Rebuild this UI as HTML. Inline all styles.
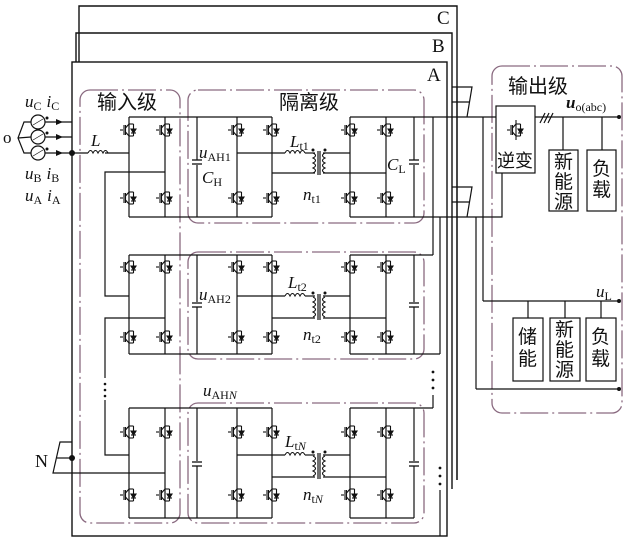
<!DOCTYPE html>
<html><head><meta charset="utf-8"><style>
html,body{margin:0;padding:0;background:#fff}
svg{display:block}
.s{font-family:"Liberation Serif","Noto Serif CJK SC",serif;fill:#111}
.c{font-family:"Liberation Sans","Noto Sans CJK SC",sans-serif;fill:#111}
</style></head><body>
<svg width="640" height="543" viewBox="0 0 640 543" xmlns="http://www.w3.org/2000/svg">
<defs>
<g id="q" stroke="#111" stroke-width="1.1" fill="none">
<line x1="-5" y1="-5" x2="-5" y2="5"/><line x1="-9" y1="0" x2="-6" y2="0"/>
<line x1="-3.5" y1="-5" x2="-3.5" y2="5"/>
<line x1="-3.5" y1="-2" x2="0" y2="-6"/><line x1="-3.5" y1="2" x2="0" y2="6"/>
<polygon points="2,-1 7,-1 4.5,3" fill="#111"/><line x1="2" y1="3" x2="7" y2="3"/>
<line x1="0" y1="-6" x2="4.5" y2="-6"/><line x1="4.5" y1="-6" x2="4.5" y2="6"/><line x1="0" y1="6" x2="4.5" y2="6"/>
</g>
<g id="cap" stroke="#111" stroke-width="1.3"><line x1="-5" y1="-2" x2="5" y2="-2"/><line x1="-5" y1="2" x2="5" y2="2"/></g>
<path id="ind" d="M0,0 q2.5,-5 5,0 q2.5,-5 5,0 q2.5,-5 5,0 q2.5,-5 5,0" fill="none" stroke="#111" stroke-width="1.1"/>
<path id="coil" d="M0,0 q5,2.5 0,5 q5,2.5 0,5 q5,2.5 0,5 q5,2.5 0,5" fill="none" stroke="#111" stroke-width="1.1"/>
<path id="coilL" d="M0,0 q-5,2.5 0,5 q-5,2.5 0,5 q-5,2.5 0,5 q-5,2.5 0,5" fill="none" stroke="#111" stroke-width="1.1"/>
</defs>

<g stroke="#111" stroke-width="1.4" fill="none">
<polyline points="79,480 79,6 457,6 457,480"/>
<polyline points="76,489 76,33 452,33 452,489"/>
<rect x="72" y="62" width="375" height="474" fill="#fff"/>
</g>
<text class="s" x="437" y="24" font-size="19">C</text>
<text class="s" x="432" y="52" font-size="19">B</text>
<text class="s" x="427" y="81" font-size="19">A</text>

<g stroke="#8a6a80" stroke-width="1.3" fill="none" stroke-dasharray="28,4,2,4">
<rect x="80" y="90" width="100" height="433" rx="10"/>
<rect x="188" y="90" width="236" height="133" rx="10"/>
<rect x="188" y="252" width="236" height="107" rx="10"/>
<rect x="188" y="403" width="236" height="120" rx="10"/>
<rect x="492" y="66" width="130" height="347" rx="10"/>
</g>
<text class="c" x="97" y="109" font-size="20">输入级</text>
<text class="c" x="279" y="109" font-size="20">隔离级</text>
<text class="c" x="508" y="93" font-size="20">输出级</text>

<g stroke="#111" stroke-width="1.2" fill="none">
<circle cx="38" cy="122" r="7"/><circle cx="38" cy="137" r="7"/><circle cx="38" cy="153" r="7"/>
<line x1="33" y1="125" x2="43" y2="119" stroke-width="0.7"/><line x1="33" y1="140" x2="43" y2="134" stroke-width="0.7"/><line x1="33" y1="156" x2="43" y2="150" stroke-width="0.7"/>
<polyline points="31,122 24,122 18,138 24,153 31,153"/><line x1="18" y1="138" x2="31" y2="137"/>
<line x1="45" y1="122" x2="72" y2="122"/><line x1="45" y1="137" x2="72" y2="137"/><line x1="45" y1="153" x2="88" y2="153"/>
<polyline points="72,442 60,442 53,473 165,473"/><line x1="57" y1="458" x2="72" y2="458"/>
</g>
<g fill="#111">
<polygon points="56,119 63,122 56,125"/><polygon points="56,134 63,137 56,140"/><polygon points="56,150 63,153 56,156"/>
<circle cx="47" cy="118" r="1.5"/><circle cx="47" cy="133" r="1.5"/><circle cx="47" cy="149" r="1.5"/>
<circle cx="72" cy="153" r="3"/><circle cx="72" cy="458" r="3"/>
</g>
<use href="#ind" x="88" y="153"/>
<text class="s" x="25" y="107" font-size="17"><tspan font-style="italic">u</tspan><tspan font-size="12" dy="3">C</tspan><tspan font-style="italic" dx="5" dy="-3">i</tspan><tspan font-size="12" dy="3">C</tspan></text>
<text class="s" x="3" y="143" font-size="17">o</text>
<text class="s" x="25" y="179" font-size="17"><tspan font-style="italic">u</tspan><tspan font-size="12" dy="3">B</tspan><tspan font-style="italic" dx="5" dy="-3">i</tspan><tspan font-size="12" dy="3">B</tspan></text>
<text class="s" x="25" y="201" font-size="17"><tspan font-style="italic">u</tspan><tspan font-size="12" dy="3">A</tspan><tspan font-style="italic" dx="5" dy="-3">i</tspan><tspan font-size="12" dy="3">A</tspan></text>
<text class="s" x="91" y="146" font-size="17" font-style="italic">L</text>
<text class="s" x="35" y="467" font-size="18">N</text>

<g stroke="#111" stroke-width="1.2" fill="none">
<polyline points="165,172 105,172 105,296 129,296"/>
<polyline points="165,318 105,318 105,378"/>
<polyline points="105,400 105,455 129,455"/>
</g>
<g fill="#111"><circle cx="105" cy="384" r="1.3"/><circle cx="105" cy="390" r="1.3"/><circle cx="105" cy="396" r="1.3"/></g>

<g stroke="#111" stroke-width="1.2" fill="none">
<line x1="129" y1="117" x2="272" y2="117"/><line x1="129" y1="217" x2="272" y2="217"/>
<line x1="129" y1="117" x2="129" y2="217"/><line x1="165" y1="117" x2="165" y2="217"/>
<line x1="197" y1="117" x2="197" y2="217"/><line x1="237" y1="117" x2="237" y2="217"/><line x1="272" y1="117" x2="272" y2="217"/>
<line x1="105" y1="153" x2="129" y2="153"/>
<line x1="237" y1="153" x2="285" y2="153"/><line x1="305" y1="153" x2="315" y2="153"/>
<line x1="272" y1="173" x2="315" y2="173"/>
<line x1="323" y1="153" x2="350" y2="153"/><line x1="323" y1="173" x2="386" y2="173"/>
<line x1="350" y1="117" x2="414" y2="117"/><line x1="350" y1="217" x2="414" y2="217"/>
<line x1="350" y1="117" x2="350" y2="217"/><line x1="386" y1="117" x2="386" y2="217"/><line x1="414" y1="117" x2="414" y2="217"/>
<line x1="318" y1="151" x2="318" y2="175"/><line x1="320" y1="151" x2="320" y2="175"/>
</g>
<g stroke="#fff" stroke-width="3"><line x1="197" y1="160" x2="197" y2="165"/><line x1="414" y1="160" x2="414" y2="165"/><line x1="315" y1="154" x2="315" y2="172"/><line x1="323" y1="154" x2="323" y2="172"/></g>
<use href="#cap" x="197" y="162"/><use href="#cap" x="414" y="162"/>
<use href="#ind" x="285" y="153"/><use href="#coil" x="313" y="153"/><use href="#coilL" x="325" y="153"/>
<g fill="#111"><circle cx="313" cy="150" r="1.5"/><circle cx="325" cy="150" r="1.5"/></g>
<g>
<use href="#q" x="129" y="130"/><use href="#q" x="165" y="130"/><use href="#q" x="129" y="198"/><use href="#q" x="165" y="198"/>
<use href="#q" x="237" y="130"/><use href="#q" x="272" y="130"/><use href="#q" x="237" y="198"/><use href="#q" x="272" y="198"/>
<use href="#q" x="350" y="130"/><use href="#q" x="386" y="130"/><use href="#q" x="350" y="198"/><use href="#q" x="386" y="198"/>
</g>
<text class="s" x="199" y="158" font-size="17"><tspan font-style="italic">u</tspan><tspan font-size="12" dy="3">AH1</tspan></text>
<text class="s" x="202" y="183" font-size="17"><tspan font-style="italic">C</tspan><tspan font-size="12" dy="3">H</tspan></text>
<text class="s" x="290" y="147" font-size="17"><tspan font-style="italic">L</tspan><tspan font-size="12" dy="3">t1</tspan></text>
<text class="s" x="303" y="200" font-size="17"><tspan font-style="italic">n</tspan><tspan font-size="12" dy="3">t1</tspan></text>
<text class="s" x="387" y="170" font-size="17"><tspan font-style="italic">C</tspan><tspan font-size="12" dy="3">L</tspan></text>

<g stroke="#111" stroke-width="1.2" fill="none">
<line x1="129" y1="255" x2="272" y2="255"/><line x1="129" y1="354" x2="272" y2="354"/>
<line x1="129" y1="255" x2="129" y2="354"/><line x1="165" y1="255" x2="165" y2="354"/>
<line x1="197" y1="255" x2="197" y2="354"/><line x1="237" y1="255" x2="237" y2="354"/><line x1="272" y1="255" x2="272" y2="354"/>
<line x1="237" y1="296" x2="285" y2="296"/><line x1="305" y1="296" x2="315" y2="296"/>
<line x1="272" y1="318" x2="315" y2="318"/>
<line x1="323" y1="296" x2="350" y2="296"/><line x1="323" y1="318" x2="386" y2="318"/>
<line x1="350" y1="255" x2="433" y2="255"/><line x1="350" y1="354" x2="440" y2="354"/>
<line x1="350" y1="255" x2="350" y2="354"/><line x1="386" y1="255" x2="386" y2="354"/><line x1="414" y1="255" x2="414" y2="354"/>
<line x1="318" y1="294" x2="318" y2="320"/><line x1="320" y1="294" x2="320" y2="320"/>
</g>
<g stroke="#fff" stroke-width="3"><line x1="197" y1="302" x2="197" y2="307"/><line x1="414" y1="302" x2="414" y2="307"/></g>
<use href="#cap" x="197" y="305"/><use href="#cap" x="414" y="305"/>
<use href="#ind" x="285" y="296"/><use href="#coil" x="313" y="297"/><use href="#coilL" x="325" y="297"/>
<g fill="#111"><circle cx="313" cy="293" r="1.5"/><circle cx="325" cy="293" r="1.5"/></g>
<g>
<use href="#q" x="129" y="267"/><use href="#q" x="165" y="267"/><use href="#q" x="129" y="337"/><use href="#q" x="165" y="337"/>
<use href="#q" x="237" y="267"/><use href="#q" x="272" y="267"/><use href="#q" x="237" y="337"/><use href="#q" x="272" y="337"/>
<use href="#q" x="350" y="267"/><use href="#q" x="386" y="267"/><use href="#q" x="350" y="337"/><use href="#q" x="386" y="337"/>
</g>
<text class="s" x="199" y="300" font-size="17"><tspan font-style="italic">u</tspan><tspan font-size="12" dy="3">AH2</tspan></text>
<text class="s" x="288" y="288" font-size="17"><tspan font-style="italic">L</tspan><tspan font-size="12" dy="3">t2</tspan></text>
<text class="s" x="303" y="340" font-size="17"><tspan font-style="italic">n</tspan><tspan font-size="12" dy="3">t2</tspan></text>

<g stroke="#111" stroke-width="1.2" fill="none">
<line x1="129" y1="408" x2="272" y2="408"/><line x1="129" y1="518" x2="272" y2="518"/>
<line x1="129" y1="408" x2="129" y2="518"/><line x1="165" y1="408" x2="165" y2="518"/>
<line x1="197" y1="408" x2="197" y2="518"/><line x1="237" y1="408" x2="237" y2="518"/><line x1="272" y1="408" x2="272" y2="518"/>
<line x1="237" y1="455" x2="285" y2="455"/><line x1="305" y1="455" x2="315" y2="455"/>
<line x1="272" y1="477" x2="315" y2="477"/>
<line x1="323" y1="455" x2="350" y2="455"/><line x1="323" y1="477" x2="386" y2="477"/>
<line x1="350" y1="408" x2="433" y2="408"/><line x1="350" y1="518" x2="414" y2="518"/>
<line x1="350" y1="408" x2="350" y2="518"/><line x1="386" y1="408" x2="386" y2="518"/><line x1="414" y1="408" x2="414" y2="518"/>
<line x1="318" y1="453" x2="318" y2="479"/><line x1="320" y1="453" x2="320" y2="479"/>
</g>
<g stroke="#fff" stroke-width="3"><line x1="197" y1="461" x2="197" y2="466"/><line x1="414" y1="461" x2="414" y2="466"/></g>
<use href="#cap" x="197" y="464"/><use href="#cap" x="414" y="464"/>
<use href="#ind" x="285" y="455"/><use href="#coil" x="313" y="456"/><use href="#coilL" x="325" y="456"/>
<g fill="#111"><circle cx="313" cy="452" r="1.5"/><circle cx="325" cy="452" r="1.5"/></g>
<g>
<use href="#q" x="129" y="432"/><use href="#q" x="165" y="432"/><use href="#q" x="129" y="495"/><use href="#q" x="165" y="495"/>
<use href="#q" x="237" y="432"/><use href="#q" x="272" y="432"/><use href="#q" x="237" y="495"/><use href="#q" x="272" y="495"/>
<use href="#q" x="350" y="432"/><use href="#q" x="386" y="432"/><use href="#q" x="350" y="495"/><use href="#q" x="386" y="495"/>
</g>
<text class="s" x="203" y="396" font-size="17"><tspan font-style="italic">u</tspan><tspan font-size="12" dy="3">AH</tspan><tspan font-size="12" font-style="italic">N</tspan></text>
<text class="s" x="285" y="447" font-size="17"><tspan font-style="italic">L</tspan><tspan font-size="12" dy="3">t</tspan><tspan font-size="12" font-style="italic">N</tspan></text>
<text class="s" x="303" y="500" font-size="17"><tspan font-style="italic">n</tspan><tspan font-size="12" dy="3">t</tspan><tspan font-size="12" font-style="italic">N</tspan></text>

<g stroke="#111" stroke-width="1.2" fill="none">
<line x1="414" y1="117" x2="496" y2="117"/>
<polyline points="414,217 502,217 502,173"/>
<line x1="433" y1="117" x2="433" y2="255"/>
<line x1="433" y1="395" x2="433" y2="408"/>
<line x1="440" y1="217" x2="440" y2="354"/>
<line x1="440" y1="490" x2="440" y2="536"/>
<line x1="476" y1="217" x2="476" y2="389"/><line x1="476" y1="389" x2="619" y2="389"/>
<line x1="483" y1="117" x2="483" y2="301"/><line x1="483" y1="301" x2="619" y2="301"/>
<polyline points="452,87 472,87 467,117"/><line x1="452" y1="102" x2="470" y2="102"/>
<polyline points="452,187 472,187 467,217"/><line x1="452" y1="202" x2="470" y2="202"/>
<line x1="457" y1="87" x2="457" y2="480"/>
<rect x="496" y="106" width="39" height="67" fill="#fff"/>
<line x1="535" y1="117" x2="619" y2="117"/>
<line x1="540" y1="123" x2="545" y2="113"/><line x1="544" y1="123" x2="549" y2="113"/><line x1="548" y1="123" x2="553" y2="113"/>
<line x1="563" y1="117" x2="563" y2="150"/><line x1="602" y1="117" x2="602" y2="150"/>
<rect x="549" y="150" width="29" height="61"/><rect x="587" y="150" width="29" height="61"/>
<line x1="528" y1="301" x2="528" y2="318"/><line x1="565" y1="301" x2="565" y2="318"/><line x1="601" y1="301" x2="601" y2="318"/>
<rect x="513" y="318" width="30" height="63"/><rect x="550" y="318" width="30" height="63"/><rect x="586" y="318" width="30" height="63"/>
</g>
<g fill="#111">
<circle cx="433" cy="372" r="1.4"/><circle cx="433" cy="380" r="1.4"/><circle cx="433" cy="388" r="1.4"/>
<circle cx="440" cy="468" r="1.4"/><circle cx="440" cy="476" r="1.4"/><circle cx="440" cy="484" r="1.4"/>
<circle cx="619" cy="117" r="2"/><circle cx="619" cy="301" r="2"/><circle cx="619" cy="389" r="2"/>
</g>
<use href="#q" x="516" y="130"/>
<line x1="516" y1="120" x2="516" y2="140" stroke="#111" stroke-width="1.1"/>
<text class="c" x="497" y="167" font-size="18">逆变</text>
<text class="s" x="566" y="108" font-size="17"><tspan font-style="italic" font-weight="bold">u</tspan><tspan font-size="12" dy="3">o(abc)</tspan></text>
<text class="s" x="596" y="297" font-size="17"><tspan font-style="italic">u</tspan><tspan font-size="12" dy="3">L</tspan></text>
<g class="c" font-size="19">
<text x="554" y="168">新</text><text x="554" y="188">能</text><text x="554" y="208">源</text>
<text x="592" y="175">负</text><text x="592" y="196">载</text>
<text x="518" y="343">储</text><text x="518" y="365">能</text>
<text x="555" y="336">新</text><text x="555" y="356">能</text><text x="555" y="376">源</text>
<text x="591" y="343">负</text><text x="591" y="365">载</text>
</g>
</svg>
</body></html>
